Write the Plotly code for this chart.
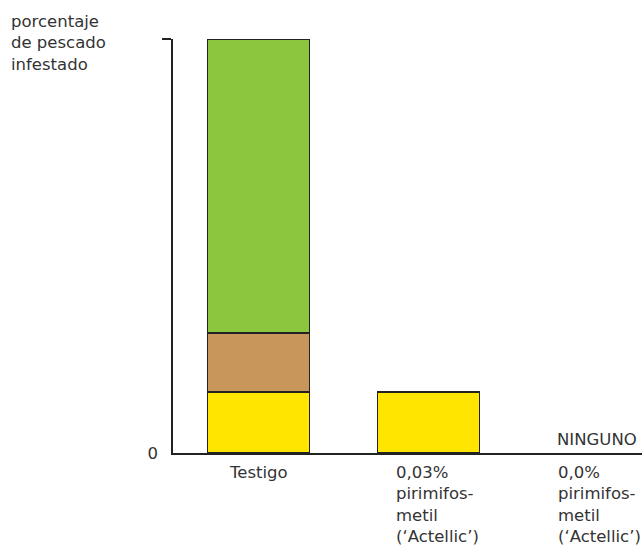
import plotly.graph_objects as go

# ---- data ----
categories = ["Testigo",
              "0,03%<br>pirimifos-<br>metil<br>(‘Actellic’)",
              "0,0%<br>pirimifos-<br>metil<br>(‘Actellic’)"]
yellow_vals = [14.7, 14.7, None]
brown_vals = [14.3, None, None]
green_vals = [71.0, None, None]
none_label = "NINGUNO"
y_title = "porcentaje<br>de pescado<br>infestado"
y_ticks = [0]
y_ticklabels = ["0"]
y_top = 100

FONT = "DejaVu Sans"
FS = 16.5
TXT = "#333333"
xpos = list(range(len(categories)))

fig = go.Figure()
for vals, col in [(yellow_vals, "#ffe500"), (brown_vals, "#c8955a"), (green_vals, "#8cc63e")]:
    fig.add_trace(go.Bar(x=xpos, y=vals, marker=dict(color=col, line=dict(color="#222222", width=1.6)),
                         hoverinfo="skip"))

# category labels
shifts = [0, -34, -42]
for i, lab in enumerate(categories):
    fig.add_annotation(x=xpos[i], y=0, xref="x", yref="y", text=lab, showarrow=False,
                       xanchor="center" if i == 0 else "left", yanchor="top",
                       align="left", xshift=shifts[i], yshift=-8,
                       font=dict(family=FONT, size=FS, color=TXT))
# NINGUNO
fig.add_annotation(x=xpos[2], y=0, xref="x", yref="y", text=none_label, showarrow=False,
                   xanchor="left", yanchor="bottom", xshift=-43, yshift=2,
                   font=dict(family=FONT, size=FS, color=TXT))
# y title
fig.add_annotation(x=0, y=1, xref="paper", yref="paper", text=y_title, showarrow=False,
                   xanchor="left", yanchor="top", align="left", xshift=-164, yshift=29,
                   font=dict(family=FONT, size=FS, color=TXT))

fig.update_layout(
    width=642, height=554, barmode="stack", bargap=0.4, showlegend=False,
    margin=dict(l=173, r=0, t=39, b=101),
    paper_bgcolor="white", plot_bgcolor="white",
    xaxis=dict(range=[-0.503, 2.256], showgrid=False, zeroline=False, showticklabels=False,
               ticks="", showline=True, linecolor="#222222", linewidth=1.6, fixedrange=True),
    yaxis=dict(range=[0, y_top], showgrid=False, zeroline=False, showline=True,
               linecolor="#222222", linewidth=1.6, tickmode="array", tickvals=y_ticks,
               ticktext=y_ticklabels, ticks="", ticklabelstandoff=10,
               tickfont=dict(family=FONT, size=FS, color=TXT),
               minor=dict(tickmode="array", tickvals=[y_top], ticks="outside", ticklen=9,
                          tickwidth=1.6, tickcolor="#222222"),
               fixedrange=True),
)
fig.write_html("out.html")
